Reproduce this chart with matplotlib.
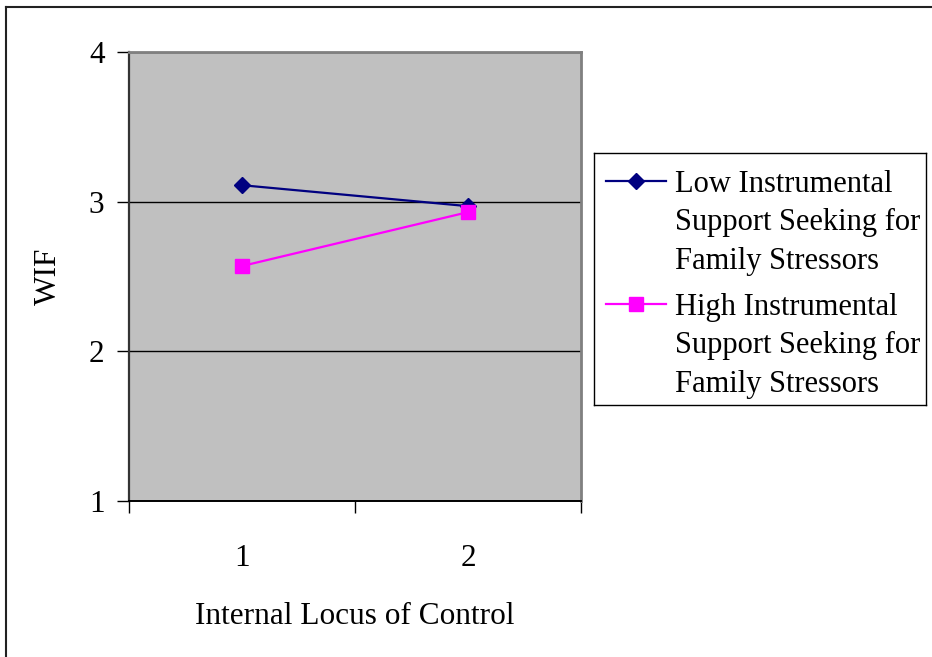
import matplotlib
matplotlib.use('Agg')
import matplotlib.pyplot as plt
from matplotlib.lines import Line2D
import numpy as np

# WIF by internal locus of control, split by support seeking
categories = ['1', '2']
low_support = [3.11, 2.97]
high_support = [2.57, 2.93]
y_ticks = [1, 2, 3, 4]
low_label = ['Low Instrumental', 'Support Seeking for', 'Family Stressors']
high_label = ['High Instrumental', 'Support Seeking for', 'Family Stressors']

W, H = 932, 657
FS = 22.5
plt.rcParams['font.family'] = ['Liberation Serif', 'DejaVu Serif']

fig = plt.figure(figsize=(W / 100, H / 100), dpi=100)


def px_box(x0, y0, x1, y1):
    # pixel box (top-left origin) -> figure fraction rect
    return [x0 / W, 1 - y1 / H, (x1 - x0) / W, (y1 - y0) / H]


ax = fig.add_axes(px_box(129, 52, 581, 501))
ax.set_facecolor('#c0c0c0')

x = np.arange(len(categories))
ax.plot(x, low_support, color='#000080', lw=1.6, marker='D', ms=8.5,
        mec='#000080', zorder=3)
ax.plot(x, high_support, color='#ff00ff', lw=1.6, marker='s', ms=9.5,
        mec='#ff00ff', zorder=4)

ax.set_xlim(-0.5, len(categories) - 0.5)
ax.set_ylim(1, 4)
ax.set_yticks(y_ticks)
ax.yaxis.grid(True, color='black', lw=1)
ax.set_axisbelow(True)

# category labels sit between the boundary ticks
ax.set_xticks(np.arange(len(categories) + 1) - 0.5)
ax.set_xticklabels([])
ax.set_xticks(x, minor=True)
ax.set_xticklabels(categories, minor=True)
ax.tick_params(axis='both', which='major', length=8.6, width=1,
               direction='out', labelsize=FS, pad=9)
ax.tick_params(axis='x', which='minor', length=0, pad=31, labelsize=FS)

ax.spines['left'].set_color('#333333')
ax.spines['left'].set_linewidth(1.6)
ax.spines['bottom'].set_color('black')
ax.spines['bottom'].set_linewidth(1.4)
for side in ['top', 'right']:
    ax.spines[side].set_color('#808080')
    ax.spines[side].set_linewidth(2)

ax.set_xlabel('Internal Locus of Control', fontsize=FS, labelpad=21)
ax.set_ylabel('WIF', fontsize=FS, labelpad=19)

# legend box drawn in pixel coordinates
lax = fig.add_axes(px_box(594, 153, 926, 405))
lax.set_xlim(594, 926)
lax.set_ylim(405, 153)
lax.set_xticks([])
lax.set_yticks([])
for s in lax.spines.values():
    s.set_color('black')
    s.set_linewidth(1)

entries = [
    (low_label, '#000080', 'D', 8.5, 181, 191.7),
    (high_label, '#ff00ff', 's', 9.5, 304, 315),
]
for lines, color, marker, ms, y_handle, y_base in entries:
    lax.plot([606, 666], [y_handle, y_handle], color=color, lw=1.6)
    lax.plot([636], [y_handle], marker=marker, ms=ms, color=color, mec=color)
    for i, t in enumerate(lines):
        lax.text(675, y_base + i * 38.4, t, fontsize=22, va='baseline', ha='left')

# outer chart frame (left and top edges)
fig.add_artist(Line2D([6 / W, 6 / W], [0, 1 - 6.5 / H], transform=fig.transFigure,
                      color='#222222', lw=1.5))
fig.add_artist(Line2D([6 / W, 1], [1 - 6.5 / H, 1 - 6.5 / H], transform=fig.transFigure,
                      color='#222222', lw=1.5))

fig.savefig('out.png', dpi=100)
